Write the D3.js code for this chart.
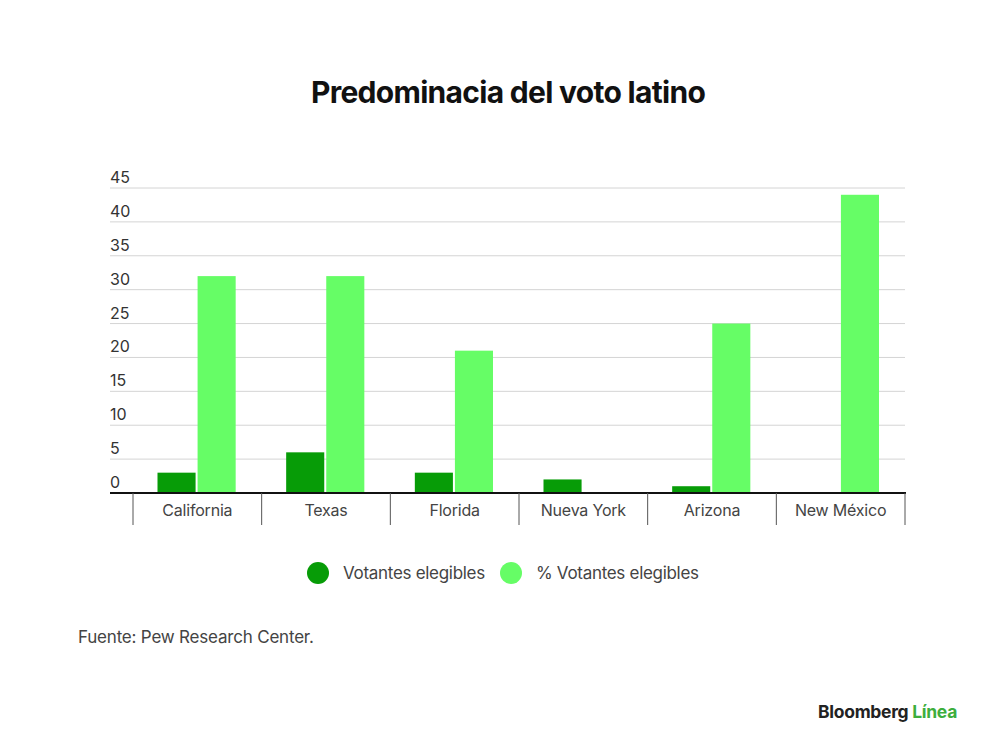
<!DOCTYPE html>
<html>
<head>
<meta charset="utf-8">
<script src="https://cdn.jsdelivr.net/npm/d3@7"></script>
<style>
  body { margin: 0; background: #fff; }
  svg { display: block; font-family: Inter, "Liberation Sans", sans-serif; }
</style>
</head>
<body>
<script>
const width = 1000;
const height = 755;

const states = ["California", "Texas", "Florida", "Nueva York", "Arizona", "New México"];
const votantes = [3, 6, 3, 2, 1, 0];
const pctVotantes = [32, 32, 21, 0, 25, 44];
const seriesNames = ["Votantes elegibles", "% Votantes elegibles"];
const seriesColors = ["#079c07", "#66fd66"];
const yTicks = [0, 5, 10, 15, 20, 25, 30, 35, 40, 45];

const svg = d3.select(document.body).append("svg")
    .attr("width", width)
    .attr("height", height);

// title
svg.append("text")
    .attr("x", 508).attr("y", 103)
    .attr("text-anchor", "middle")
    .attr("font-size", 30)
    .attr("font-weight", 700)
    .attr("letter-spacing", -0.7)
    .attr("fill", "#111")
    .text("Predominacia del voto latino");

const x = d3.scaleBand().domain(states).range([133, 905]);
const xs = d3.scaleBand().domain([0, 1]).range([24.5, x.bandwidth() - 26]).paddingInner(0.05);
const y = d3.scaleLinear().domain([0, 45]).range([493, 188]);

// grid
svg.append("g")
    .selectAll("line")
    .data(yTicks.filter(d => d > 0))
    .join("line")
    .attr("x1", 110).attr("x2", 905)
    .attr("y1", d => y(d)).attr("y2", d => y(d))
    .attr("stroke", "#d4d4d4")
    .attr("stroke-width", 1);

// y tick labels, sitting above their gridlines
svg.append("g")
    .selectAll("text")
    .data(yTicks)
    .join("text")
    .attr("x", 110)
    .attr("y", d => y(d) - 5)
    .attr("font-size", 16)
    .attr("fill", "#333")
    .text(d => d);

// bars
const rows = states.map((s, i) => ({ state: s, vals: [votantes[i], pctVotantes[i]] }));
svg.append("g")
    .selectAll("g")
    .data(rows)
    .join("g")
    .attr("transform", d => `translate(${x(d.state)},0)`)
    .selectAll("rect")
    .data(d => d.vals.map((v, k) => ({ k, v })))
    .join("rect")
    .attr("x", d => xs(d.k))
    .attr("width", xs.bandwidth())
    .attr("y", d => y(d.v))
    .attr("height", d => y(0) - y(d.v))
    .attr("fill", d => seriesColors[d.k]);

// x axis
const xAxis = svg.append("g");
xAxis.append("line")
    .attr("x1", 110).attr("x2", 906)
    .attr("y1", y(0)).attr("y2", y(0))
    .attr("stroke", "#111").attr("stroke-width", 2);
xAxis.selectAll("line.sep")
    .data(states.concat(["end"]))
    .join("line")
    .attr("class", "sep")
    .attr("x1", (d, i) => 133 + i * x.bandwidth())
    .attr("x2", (d, i) => 133 + i * x.bandwidth())
    .attr("y1", y(0)).attr("y2", y(0) + 32)
    .attr("stroke", "#555").attr("stroke-width", 1);
xAxis.selectAll("text")
    .data(states)
    .join("text")
    .attr("x", d => x(d) + x.bandwidth() / 2)
    .attr("y", 516)
    .attr("text-anchor", "middle")
    .attr("font-size", 16)
    .attr("letter-spacing", -0.2)
    .attr("fill", "#444")
    .text(d => d);

// legend
const legendX = [318, 511];
const legend = svg.append("g")
    .selectAll("g")
    .data(seriesNames)
    .join("g")
    .attr("transform", (d, i) => `translate(${legendX[i]},573)`);
legend.append("circle").attr("r", 11).attr("fill", (d, i) => seriesColors[i]);
legend.append("text")
    .attr("x", 25).attr("y", 6)
    .attr("font-size", 17)
    .attr("letter-spacing", -0.3)
    .attr("fill", "#444")
    .text(d => d);

// source
svg.append("text")
    .attr("x", 78).attr("y", 643)
    .attr("font-size", 17)
    .attr("letter-spacing", -0.2)
    .attr("fill", "#444")
    .text("Fuente: Pew Research Center.");

// brand
const brand = svg.append("text")
    .attr("x", 957).attr("y", 718)
    .attr("text-anchor", "end")
    .attr("font-size", 17.5)
    .attr("font-weight", 700)
    .attr("letter-spacing", -0.3);
brand.append("tspan").attr("fill", "#222").text("Bloomberg ");
brand.append("tspan").attr("fill", "#3dae3d").text("Línea");
</script>
</body>
</html>
